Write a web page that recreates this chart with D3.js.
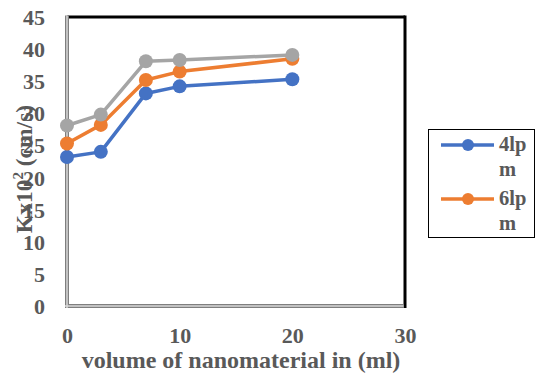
<!DOCTYPE html>
<html><head><meta charset="utf-8">
<script src="https://cdn.jsdelivr.net/npm/d3@7"></script>
<style>body{margin:0;background:#fff}svg{display:block}
svg text{font-family:"Liberation Serif","Times New Roman",serif;font-weight:bold}</style>
</head><body>
<svg id="chart" width="536" height="376"></svg>
<script>
const volumes = [0, 3, 7, 10, 20];
const lpm4 = [23.2, 24.0, 33.1, 34.2, 35.3];
const lpm6 = [25.3, 28.2, 35.2, 36.5, 38.5];
const lpm8 = [28.1, 29.8, 38.1, 38.3, 39.1];
const xTicks = [0, 10, 20, 30];
const yTicks = [0, 5, 10, 15, 20, 25, 30, 35, 40, 45];
const seriesNames = ["4lp\nm", "6lp\nm", "8lp\nm"];
const seriesColors = ["#4472C4", "#ED7D31", "#A5A5A5"];

const svg = d3.select("#chart");
const textCol = "#595959";
const x = d3.scaleLinear().domain([0, 30]).range([67, 405]);
const y = d3.scaleLinear().domain([0, 45]).range([306, 17]);

// plot frame: black top/right, grey double-ruled left/bottom
const g = svg.append("g");
g.append("line").attr("x1", x(0)).attr("x2", x(30)).attr("y1", y(45)).attr("y2", y(45))
  .attr("stroke", "#000").attr("stroke-width", 3);
g.append("line").attr("x1", x(30)).attr("x2", x(30)).attr("y1", y(45) - 1.5).attr("y2", y(0) + 2)
  .attr("stroke", "#000").attr("stroke-width", 3);
[["#7f7f7f", 4], ["#d9d9d9", 1.5]].forEach(([c, w]) => {
  g.append("line").attr("x1", x(0)).attr("x2", x(0)).attr("y1", y(45) - 1.5).attr("y2", y(0) + 2)
    .attr("stroke", c).attr("stroke-width", w);
  g.append("line").attr("x1", x(0) - 2).attr("x2", x(30) - 1.5).attr("y1", y(0)).attr("y2", y(0))
    .attr("stroke", c).attr("stroke-width", w);
});

// axes
const yAxis = svg.append("g").attr("transform", `translate(${x(0) - 22},0)`)
  .call(d3.axisLeft(y).tickValues(yTicks).tickSize(0).tickPadding(0));
const xAxis = svg.append("g").attr("transform", `translate(0,343)`)
  .call(d3.axisBottom(x).tickValues(xTicks).tickSize(0).tickPadding(0));
[yAxis, xAxis].forEach(a => {
  a.attr("font-family", null).attr("font-size", null);
  a.select(".domain").remove();
  a.selectAll("text").attr("font-size", 22).attr("fill", textCol);
});
yAxis.selectAll("text").attr("dy", "0.34em");
xAxis.selectAll("text").attr("dy", 0);

svg.append("text").attr("x", 241).attr("y", 368).attr("text-anchor", "middle")
  .attr("font-size", 24).attr("fill", textCol)
  .text("volume of nanomaterial in (ml)");

const yt = svg.append("text").attr("transform", "translate(32,169) rotate(-90)")
  .attr("text-anchor", "middle").attr("font-size", 23.5).attr("fill", textCol);
yt.append("tspan").text("Kx10");
yt.append("tspan").attr("dy", -9).attr("font-size", 15).text("2");
yt.append("tspan").attr("dy", 9).text(" (cm/s)");

// series
const data = [lpm4, lpm6, lpm8];
const line = d3.line().x((d, i) => x(volumes[i])).y(d => y(d));
data.forEach((vals, s) => {
  const sg = svg.append("g");
  sg.append("path").datum(vals).attr("d", line).attr("fill", "none")
    .attr("stroke", seriesColors[s]).attr("stroke-width", 3.5).attr("stroke-linejoin", "round");
  sg.selectAll("circle").data(vals).join("circle")
    .attr("cx", (d, i) => x(volumes[i])).attr("cy", d => y(d)).attr("r", 7)
    .attr("fill", seriesColors[s]);
});

// legend (box runs into the right edge; first two entries shown)
const lg = svg.append("g");
lg.append("rect").attr("x", 428.5).attr("y", 129.5).attr("width", 106).attr("height", 108)
  .attr("fill", "#fff").attr("stroke", "#000").attr("stroke-width", 1);
[0, 1].forEach(i => {
  const cy = 145 + i * 54;
  lg.append("line").attr("x1", 441).attr("x2", 494).attr("y1", cy).attr("y2", cy)
    .attr("stroke", seriesColors[i]).attr("stroke-width", 3.5);
  lg.append("circle").attr("cx", 468).attr("cy", cy).attr("r", 6).attr("fill", seriesColors[i]);
  const lines = seriesNames[i].split("\n");
  lines.forEach((t, k) => {
    lg.append("text").attr("x", 499).attr("y", cy + 6 + k * 25)
      .attr("font-size", 20.5).attr("fill", textCol).text(t);
  });
});
</script>
</body></html>
